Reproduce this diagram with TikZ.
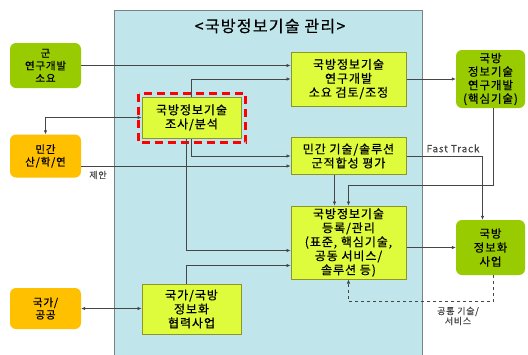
\documentclass[tikz,border=0pt]{standalone}
\usepackage{fontspec}
\setmainfont{Noto Sans CJK KR}[LetterSpace=8,FakeBold=0.5]
\usetikzlibrary{arrows.meta}
\definecolor{panelblue}{RGB}{192,229,234}
\definecolor{panelline}{RGB}{120,130,135}
\definecolor{boxfill}{RGB}{222,252,60}
\definecolor{boxline}{RGB}{140,150,40}
\definecolor{leafgreen}{RGB}{153,204,0}
\definecolor{amber}{RGB}{255,192,0}
\definecolor{linegray}{RGB}{70,70,70}

\begin{document}
\begin{tikzpicture}[x=1pt,y=-1pt,
    box/.style={draw=boxline,fill=boxfill,line width=1pt,align=center,inner sep=0pt,font=\fontsize{12}{14}\selectfont},
    side/.style={rounded corners=6pt,align=center,inner sep=0pt,font=\fontsize{10.5}{12.5}\selectfont},
    arr/.style={-{Latex[length=4pt,width=3.5pt]},draw=linegray,line width=0.6pt},
    both/.style={{Latex[length=4pt,width=3.5pt]}-{Latex[length=4pt,width=3.5pt]},draw=linegray,line width=0.6pt},
    note/.style={text=linegray,font=\fontsize{9}{10}\selectfont,align=center}]
    \useasboundingbox (0,0) rectangle (528,354);
    \fill[white] (0,0) rectangle (528,354);
    \draw[panelline,fill=panelblue] (114,10) rectangle (422,360);
    \node (title) at (270,26) {\fontsize{16}{18}\selectfont <국방정보기술 관리>};

    \node[side,fill=leafgreen,minimum width=71pt,minimum height=45pt] (mil) at (45.5,65.5) {군\\연구개발\\소요};
    \node[side,fill=amber,minimum width=71pt,minimum height=43pt] (civ) at (45.5,156) {민간\\산/학/연};
    \node[side,fill=amber,minimum width=71pt,minimum height=41pt] (nat) at (45.5,308.5) {국가/\\공공};

    \node[box,minimum width=99pt,minimum height=41pt] (survey) at (191.5,117.5) {국방정보기술\\조사/분석};
    \draw[red,line width=2.5pt,dash pattern=on 8pt off 5pt] ([xshift=-3pt,yshift=3pt]survey.north west) rectangle ([xshift=4pt,yshift=-4pt]survey.south east);
    \node[box,minimum width=99pt,minimum height=50pt] (coop) at (191.5,309) {국가/국방\\정보화\\협력사업};
    \node[box,minimum width=115pt,minimum height=54pt] (review) at (348.5,79) {국방정보기술\\연구개발\\소요 검토/조정};
    \node[box,minimum width=115pt,minimum height=37pt] (eval) at (348.5,156) {민간 기술/솔루션\\군적합성 평가};
    \node[box,minimum width=115pt,minimum height=73pt] (reg) at (348.5,242.5) {국방정보기술\\등록/관리\\(표준, 핵심기술,\\공동 서비스/\\솔루션 등)};

    \node[side,fill=leafgreen,minimum width=69pt,minimum height=58pt,font=\fontsize{11.5}{13.5}\selectfont] (core) at (490.5,79) {국방\\정보기술\\연구개발\\(핵심기술)};
    \node[side,fill=leafgreen,minimum width=69pt,minimum height=55pt,font=\fontsize{11.5}{14}\selectfont] (proj) at (490.5,247.5) {국방\\정보화\\사업};

    \draw[arr] (mil.east) -- (mil.east -| review.west);
    \draw[arr] (survey.north) |- (review.west);
    \draw[both] (civ.north) |- (survey.west);
    \draw[arr] (survey.south) |- (eval.west);
    \draw[arr] ([yshift=-10pt]civ.east) -- ([yshift=-10pt]eval.west);
    \node[note] (offer) at (98,175) {제안};
    \draw[arr] ([xshift=-5pt]survey.south) |- ([yshift=-8pt]reg.west);
    \draw[arr] ([xshift=-5pt]coop.north) |- ([yshift=-23pt]reg.west);
    \draw[both] (nat.east) -- (nat.east -| coop.west);
    \draw[arr] ([xshift=-14pt]eval.south) -- ([xshift=-14pt]reg.north);
    \draw[arr] ([xshift=3pt]core.south) |- ([yshift=-10pt]eval.south) -- (reg.north);
    \draw[arr] (review.east) -- (review.east -| core.west);
    \draw[arr] (eval.east) -| ([xshift=-8pt]proj.north);
    \node[note,anchor=south,font=\fontsize{10}{11}\selectfont] (fast) at (453,156) {Fast Track};
    \draw[arr] (reg.east |- proj.west) -- (proj.west);
    \draw[arr,dashed] ([xshift=3pt]proj.south) |- ([yshift=-22pt]reg.south) -- (reg.south);
    \node[note] (common) at (458,316) {공통 기술/\\서비스};
\end{tikzpicture}
\end{document}
